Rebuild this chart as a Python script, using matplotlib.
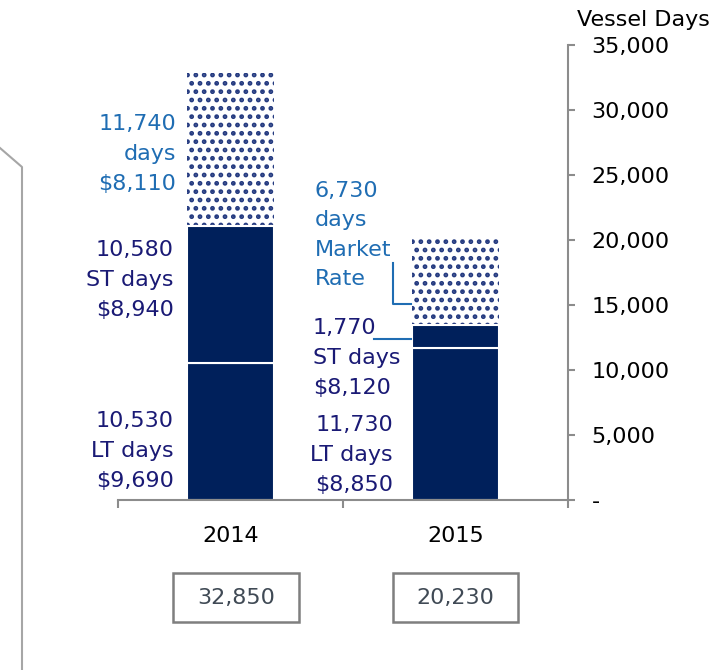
import matplotlib
matplotlib.use("Agg")
import matplotlib.pyplot as plt
from matplotlib.lines import Line2D
from matplotlib.patches import Rectangle

plt.rcParams['font.family'] = ['DejaVu Sans']
plt.rcParams['hatch.linewidth'] = 2.2

# data
years = ['2014', '2015']
lt_days = [10530, 11730]
st_days = [10580, 1770]
market_days = [11740, 6730]
totals = ['32,850', '20,230']
yticks = [0, 5000, 10000, 15000, 20000, 25000, 30000, 35000]

navy = '#00205b'
label_navy = '#1a1a75'
label_blue = '#1f6db3'
grey = '#8c8c8c'
fs = 16

fig = plt.figure(figsize=(7.21, 6.70), dpi=100)
ax = fig.add_axes([118 / 721, 1 - 500 / 670, 450 / 721, 455 / 670])

x = [0, 1]
w = 0.39
base2 = [a + b for a, b in zip(lt_days, st_days)]
# hatched market-rate segment (hatch takes the edge colour)
ax.bar(x, market_days, w, bottom=base2, color='white', edgecolor='#243a80',
       linewidth=0, hatch='..')
ax.bar(x, lt_days, w, color=navy, edgecolor='white', linewidth=1.5)
ax.bar(x, st_days, w, bottom=lt_days, color=navy, edgecolor='white', linewidth=1.5)

ax.set_xlim(-0.5, 1.5)
ax.set_ylim(0, 35000)

# axes styling
for s in ['top', 'left']:
    ax.spines[s].set_visible(False)
for s in ['bottom', 'right']:
    ax.spines[s].set_color(grey)
    ax.spines[s].set_linewidth(1.5)

ax.yaxis.tick_right()
ax.set_yticks(yticks)
ax.set_yticklabels(['-'] + [f'{v:,}' for v in yticks[1:]])
ax.tick_params(axis='y', length=5, width=1.5, color=grey, labelsize=fs, pad=12)

ax.set_xticks(x)
ax.set_xticklabels(years)
ax.tick_params(axis='x', length=0, labelsize=fs, pad=19)
ax.set_xticks([-0.5, 0.5, 1.5], minor=True)
ax.tick_params(axis='x', which='minor', length=6, width=1.5, color=grey)

fig.text(643 / 721, 1 - 20 / 670, 'Vessel Days', fontsize=fs, ha='center', va='center')

# segment labels
def lab(xp, yp, s, color, ha):
    fig.text(xp / 721, 1 - yp / 670, s, fontsize=fs, color=color, ha=ha, va='center',
             linespacing=1.6)

lab(176, 154, f'{market_days[0]:,}\ndays\n$8,110', label_blue, 'right')
lab(174, 280, f'{st_days[0]:,}\nST days\n$8,940', label_navy, 'right')
lab(174, 451, f'{lt_days[0]:,}\nLT days\n$9,690', label_navy, 'right')
lab(315, 235, f'{market_days[1]:,}\ndays\nMarket\nRate', label_blue, 'left')
lab(313, 358, f'{st_days[1]:,}\nST days\n$8,120', label_navy, 'left')
lab(393, 455, f'{lt_days[1]:,}\nLT days\n$8,850', label_navy, 'right')

# leader lines
def px(xp, yp):
    return xp / 721, 1 - yp / 670
for pts in ([(393, 263), (393, 304), (411, 304)], [(374, 339), (411, 339)]):
    xs = [px(*p)[0] for p in pts]
    ys = [px(*p)[1] for p in pts]
    fig.add_artist(Line2D(xs, ys, color=label_blue, lw=1.5))

# total boxes
for (x0, x1), t in zip([(173, 299), (393, 518)], totals):
    fig.add_artist(Rectangle(px(x0, 622), (x1 - x0) / 721, 49 / 670, fill=False,
                             edgecolor='#7f7f7f', lw=1.8))
    fig.text((x0 + x1) / 2 / 721, 1 - 598 / 670, t, fontsize=fs, color='#404a55',
             ha='center', va='center')

# bracket on the left edge
fig.add_artist(Line2D([0, 22 / 721, 22 / 721], [1 - 148 / 670, 1 - 167 / 670, 0],
                      color='#a6a6a6', lw=1.5))

fig.savefig('out.png', dpi=100)
